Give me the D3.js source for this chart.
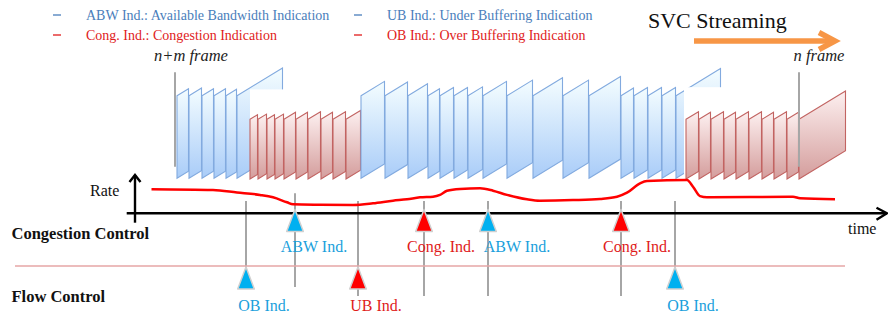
<!DOCTYPE html>
<html>
<head>
<meta charset="utf-8">
<script src="https://cdn.jsdelivr.net/npm/d3@7"></script>
<style>
  body { margin: 0; background: #fff; }
  svg text { font-family: "Liberation Serif", "Times New Roman", serif; }
</style>
</head>
<body>
<div id="chart"></div>
<script>
// frame start times (time units), grouped by kind
var blueFrames1 = [42, 54, 67, 79, 91, 102];
var redFrames1 = [115, 123, 132, 140, 149, 161, 173, 186, 198, 211];
var blueFrames2 = [226, 250, 273, 293, 305, 319, 333, 348, 372, 398, 428, 454, 486, 499, 513, 527, 541];
var redFrames2 = [551, 564, 576, 589, 601, 614, 627, 639, 652, 664];
var groupEnds = [148, null, 586, 711]; // last frame end (null = next group start)

// sending rate over time
var rateT = [16.5, 78, 102, 125, 138, 152, 158, 185, 218, 238, 258, 272, 285, 298, 305, 312, 325, 345, 358, 372, 392, 405, 438, 465, 482, 492, 505, 512, 552, 558, 565, 572, 658, 665, 700];
var rateV = [6.0, 5.8, 5.2, 4.6, 4.0, 2.75, 2.25, 2.15, 2.1, 2.5, 3.15, 3.5, 4.0, 4.15, 4.6, 5.65, 6.1, 6.25, 5.65, 4.6, 3.5, 3.15, 3.3, 3.6, 4.15, 5.15, 7.5, 8.1, 8.3, 6.65, 4.3, 4.0, 4.15, 3.75, 3.5];

// indications
var eventT = [111, 160, 223, 289, 353, 486, 540];
var eventLabel = ["OB Ind.", "ABW Ind.", "UB Ind.", "Cong. Ind.", "ABW Ind.", "Cong. Ind.", "OB Ind."];
var eventLane = ["flow", "cong", "flow", "cong", "cong", "cong", "flow"];
var eventKind = ["blue", "blue", "red", "red", "blue", "red", "blue"];

var frameMarks = [{ t: 40, label: "n+m frame" }, { t: 664, label: "n frame" }];

var legendText = [
    ["ABW Ind.: Available Bandwidth Indication", "UB Ind.: Under Buffering Indication"],
    ["Cong. Ind.: Congestion Indication", "OB Ind.: Over Buffering Indication"]
];

var width = 888, height = 316;

var svg = d3.select("#chart").append("svg")
    .attr("width", width)
    .attr("height", height);

var x = d3.scaleLinear().domain([0, 753]).range([135, 888]);
var yRate = d3.scaleLinear().domain([0, 10]).range([213.3, 173.3]);

var defs = svg.append("defs");
function grad(id, c0, c1) {
    var g = defs.append("linearGradient").attr("id", id)
        .attr("x1", 0).attr("y1", 0).attr("x2", 0).attr("y2", 1);
    g.append("stop").attr("offset", "0%").attr("stop-color", c0);
    g.append("stop").attr("offset", "100%").attr("stop-color", c1);
}
grad("gBlue", "#f4fdff", "#a9ccf8");
grad("gRed", "#fdf0f0", "#d49d9c");

// legend
var legColors = [["#4a7ebb", "#4a7ebb"], ["#e01b1b", "#e01b1b"]];
legendText.forEach(function (row, r) {
    row.forEach(function (txt, c) {
        var lx = c == 0 ? 53 : 354;
        var ly = 20 + r * 20;
        svg.append("line")
            .attr("x1", lx).attr("x2", lx + 8)
            .attr("y1", ly - 5).attr("y2", ly - 5)
            .attr("stroke", legColors[r][c]).attr("stroke-width", 1.3);
        svg.append("text")
            .attr("x", lx + 33).attr("y", ly)
            .attr("fill", legColors[r][c])
            .style("font-size", "14px")
            .text(txt);
    });
});

// SVC streaming arrow
svg.append("text")
    .attr("x", 648).attr("y", 27.5)
    .style("font-size", "22px")
    .attr("fill", "#111")
    .text("SVC Streaming");
svg.append("line")
    .attr("x1", 694).attr("x2", 834).attr("y1", 41).attr("y2", 41)
    .attr("stroke", "#f79646").attr("stroke-width", 5.5);
svg.append("path")
    .attr("d", "M819,32.5 L835,41 L819,49.5")
    .attr("fill", "none").attr("stroke", "#f79646").attr("stroke-width", 5.5);

// frames
var slant = 0.61;
var groups = [
    { starts: blueFrames1, kind: "blue" },
    { starts: redFrames1, kind: "red" },
    { starts: blueFrames2, kind: "blue" },
    { starts: redFrames2, kind: "red" }
];
var frameBox = { blue: [95.7, 178.3], red: [119.3, 179] };
var coverTop = [89.4, null, 87.2, null];

groups.forEach(function (g, gi) {
    var next = gi + 1 < groups.length ? groups[gi + 1].starts[0] : null;
    var frames = g.starts.map(function (t, i) {
        var end = i + 1 < g.starts.length ? g.starts[i + 1] : (groupEnds[gi] != null ? groupEnds[gi] : next);
        return { t0: t, t1: end };
    });
    var box = frameBox[g.kind];
    svg.append("g").selectAll("path")
        .data(frames)
        .enter().append("path")
        .attr("d", function (d) {
            var x0 = x(d.t0), x1 = x(d.t1) - 0.5;
            var rise = slant * (x1 - x0);
            return "M" + x0 + "," + box[0] + "L" + x1 + "," + (box[0] - rise) +
                "L" + x1 + "," + (box[1] - rise) + "L" + x0 + "," + box[1] + "Z";
        })
        .attr("fill", g.kind == "blue" ? "url(#gBlue)" : "url(#gRed)")
        .attr("stroke", g.kind == "blue" ? "#82aadf" : "#c26462")
        .attr("stroke-width", 1.1);
    // white mask hiding the lower part of the big last frame
    if (coverTop[gi] != null) {
        var cx0 = x(next) - (gi == 2 ? 2 : 0);
        svg.append("rect")
            .attr("x", cx0).attr("y", coverTop[gi])
            .attr("width", x(groupEnds[gi]) - cx0 + 1)
            .attr("height", 181 - coverTop[gi])
            .attr("fill", "#fff");
    }
});

// frame marker lines
frameMarks.forEach(function (m, i) {
    svg.append("line")
        .attr("x1", x(m.t)).attr("x2", x(m.t))
        .attr("y1", 72.3).attr("y2", 166.7)
        .attr("stroke", "#a6a6a6").attr("stroke-width", 2);
    svg.append("text")
        .attr("x", i == 0 ? x(m.t) - 21 : x(m.t) - 5.5)
        .attr("y", 61)
        .style("font-size", "16.5px")
        .style("font-style", "italic")
        .attr("fill", "#222")
        .text(m.label);
});

// event lines
svg.append("g").selectAll("line")
    .data(eventT)
    .enter().append("line")
    .attr("x1", function (d) { return x(d); })
    .attr("x2", function (d) { return x(d); })
    .attr("y1", function (d, i) { return i == 1 ? 193.3 : 201; })
    .attr("y2", function (d, i) { return eventLane[i] == "flow" && eventKind[i] == "blue" ? 288 : (i == 1 ? 287 : 296); })
    .attr("stroke", "#a6a6a6").attr("stroke-width", 2);

// separator between lanes
svg.append("line")
    .attr("x1", 15).attr("x2", 845).attr("y1", 266).attr("y2", 266)
    .attr("stroke", "#e6a6a6").attr("stroke-width", 1.5);

// rate curve
var line = d3.line()
    .x(function (d, i) { return x(rateT[i]); })
    .y(function (d) { return yRate(d); })
    .curve(d3.curveMonotoneX);
svg.append("path")
    .datum(rateV)
    .attr("d", line)
    .attr("fill", "none")
    .attr("stroke", "#ff0000")
    .attr("stroke-width", 2.5);

// axes
svg.append("line")
    .attr("x1", x(-8.3)).attr("x2", x(753) - 1).attr("y1", yRate(0)).attr("y2", yRate(0))
    .attr("stroke", "#000").attr("stroke-width", 2.4);
svg.append("path")
    .attr("d", "M" + (x(753) - 11.5) + "," + (yRate(0) - 5.5) + "L" + (x(753) - 1) + "," + yRate(0) + "L" + (x(753) - 11.5) + "," + (yRate(0) + 6.5))
    .attr("fill", "none").attr("stroke", "#000").attr("stroke-width", 2.4);
svg.append("line")
    .attr("x1", x(0)).attr("x2", x(0)).attr("y1", 222.7).attr("y2", 175)
    .attr("stroke", "#000").attr("stroke-width", 2.4);
svg.append("path")
    .attr("d", "M" + (x(0) - 5.5) + ",182 L" + x(0) + ",175 L" + (x(0) + 5.5) + ",182")
    .attr("fill", "none").attr("stroke", "#000").attr("stroke-width", 2.4);

svg.append("text").attr("x", 90).attr("y", 196)
    .style("font-size", "16px").attr("fill", "#111").text("Rate");
svg.append("text").attr("x", 848).attr("y", 234)
    .style("font-size", "16px").attr("fill", "#111").text("time");

svg.append("text").attr("x", 11.5).attr("y", 238.5)
    .style("font-size", "16.5px").style("font-weight", "bold").attr("fill", "#111")
    .text("Congestion Control");
svg.append("text").attr("x", 11.5).attr("y", 301.5)
    .style("font-size", "16.5px").style("font-weight", "bold").attr("fill", "#111")
    .text("Flow Control");

// markers
var markColor = { blue: "#00b0f0", red: "#ff0000" };
var textColor = { blue: "#1a9fdc", red: "#e01b1b" };
var laneTip = { cong: 209.5, flow: 267 };
var labelDx = [18, 19, 18, 17, 29, 16, 18];
var labelY = { cong: 251.5, flow: 311 };

svg.append("g").selectAll("path")
    .data(eventT)
    .enter().append("path")
    .attr("d", function (d, i) {
        var cx = x(d), ty = laneTip[eventLane[i]];
        return "M" + cx + "," + ty + "L" + (cx + 8.3) + "," + (ty + 22) + "L" + (cx - 8.3) + "," + (ty + 22) + "Z";
    })
    .attr("fill", function (d, i) { return markColor[eventKind[i]]; })
    .attr("stroke", "#d0d0d0").attr("stroke-width", 1.5)
    .attr("stroke-linejoin", "round");

svg.append("g").selectAll("text")
    .data(eventT)
    .enter().append("text")
    .attr("x", function (d, i) { return x(d) + labelDx[i]; })
    .attr("y", function (d, i) { return labelY[eventLane[i]]; })
    .attr("text-anchor", "middle")
    .style("font-size", "16px")
    .attr("fill", function (d, i) { return textColor[eventKind[i]]; })
    .text(function (d, i) { return eventLabel[i]; });
</script>
</body>
</html>
